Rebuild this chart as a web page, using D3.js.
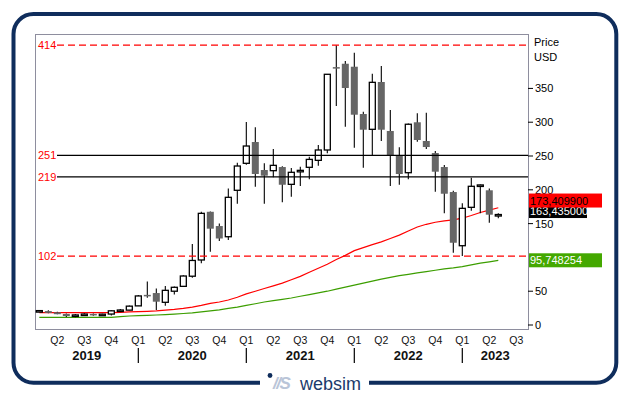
<!DOCTYPE html>
<html>
<head>
<meta charset="utf-8">
<script src="https://cdn.jsdelivr.net/npm/d3@7"></script>
<style>
  body { margin: 0; background: #fff; }
  svg { display: block; font-family: "Liberation Sans", Arial, sans-serif; }
</style>
</head>
<body>
<svg width="630" height="396"></svg>
<script>
// monthly candles, Feb 2019 .. May 2023
var months = [
  "2019-02","2019-03","2019-04","2019-05","2019-06","2019-07","2019-08","2019-09","2019-10","2019-11","2019-12",
  "2020-01","2020-02","2020-03","2020-04","2020-05","2020-06","2020-07","2020-08","2020-09","2020-10","2020-11","2020-12",
  "2021-01","2021-02","2021-03","2021-04","2021-05","2021-06","2021-07","2021-08","2021-09","2021-10","2021-11","2021-12",
  "2022-01","2022-02","2022-03","2022-04","2022-05","2022-06","2022-07","2022-08","2022-09","2022-10","2022-11","2022-12",
  "2023-01","2023-02","2023-03","2023-04","2023-05"];

var open = [
  20.3, 20.6, 18.8, 16.3, 14.0, 14.9, 16.4, 15.0, 16.2, 21.0, 22.0,
  28.3, 44.6, 47.3, 33.6, 50.0, 57.2, 72.2, 96.2, 167.5, 146.4, 130.6, 199.3,
  239.2, 270.7, 229.3, 228.3, 233.7, 208.1, 227.0, 233.3, 243.6, 258.9, 381.5, 386.5,
  382.1, 312.1, 289.5, 359.5, 287.0, 251.0, 225.3, 299.9, 272.2, 254.4, 233.7, 196.7,
  117.3, 174.1, 205.6, 199.3, 162.8];
var high = [
  22.0, 21.8, 19.6, 17.0, 16.4, 17.4, 16.9, 16.5, 22.0, 23.6, 29.0,
  44.5, 64.5, 54.0, 57.7, 57.0, 73.5, 119.7, 167.5, 168.0, 150.0, 202.0, 240.0,
  300.3, 292.4, 239.2, 260.4, 235.0, 232.2, 234.0, 249.0, 266.3, 371.5, 414.0, 390.5,
  402.8, 315.5, 371.7, 383.0, 318.0, 262.9, 298.0, 313.2, 314.0, 257.4, 236.7, 198.7,
  180.0, 217.9, 207.8, 202.0, 165.2];
var low = [
  19.3, 17.4, 15.8, 12.0, 11.4, 14.0, 13.6, 14.4, 14.2, 20.8, 21.8,
  28.1, 40.4, 22.2, 28.6, 45.0, 56.5, 70.0, 91.3, 108.5, 124.3, 125.7, 179.4,
  237.0, 204.6, 179.4, 218.5, 181.5, 189.8, 205.6, 215.5, 235.7, 254.0, 324.0, 293.3,
  262.3, 232.7, 251.5, 272.2, 205.6, 207.5, 215.5, 271.2, 260.4, 197.2, 165.2, 107.0,
  102.0, 169.0, 165.2, 151.3, 157.8];
var close = [
  21.3, 18.0, 16.0, 13.3, 14.9, 16.2, 14.3, 16.0, 21.0, 22.2, 27.9,
  43.0, 44.0, 34.5, 51.3, 55.8, 72.5, 95.5, 165.2, 142.5, 128.0, 188.9, 235.2,
  264.8, 223.4, 220.9, 236.2, 207.5, 225.9, 228.8, 245.0, 258.9, 370.9, 381.0, 350.6,
  311.1, 288.9, 359.0, 288.9, 251.5, 223.4, 297.0, 273.7, 263.3, 226.8, 194.2, 121.7,
  172.6, 205.2, 207.2, 163.2, 163.435];

// moving averages (red, green)
var maRed = [
  18.2, 18.2, 18.2, 18.2, 18.2, 18.2, 18.2, 18.2, 18.2, 18.8, 19.5,
  19.8, 20.3, 21.0, 22.0, 23.0, 24.5, 26.5, 29.0, 32.0, 34.0, 37.0, 41.0,
  46.0, 50.0, 54.0, 58.0, 62.0, 67.0, 72.0, 78.0, 84.0, 90.0, 97.0, 103.0,
  110.0, 114.5, 119.0, 123.0, 128.0, 133.0, 139.0, 145.0, 149.0, 152.0, 154.0, 155.5,
  158.0, 162.0, 166.5, 170.0, 173.4099];
var maGreen = [
  11.3, 11.3, 11.3, 11.3, 11.3, 11.3, 11.3, 11.3, 11.3, 12.5, 13.3,
  13.8, 14.3, 14.8, 15.5, 16.2, 17.0, 18.0, 19.5, 21.0, 22.5, 24.5, 26.5,
  29.0, 31.5, 34.0, 36.0, 38.0, 40.0, 42.5, 45.0, 47.5, 50.0, 53.0, 56.0,
  59.0, 62.0, 65.0, 68.0, 70.5, 73.0, 75.0, 77.0, 79.0, 81.0, 83.0, 84.5,
  86.5, 89.0, 91.5, 93.5, 95.748254];

var levels = [414, 251, 219, 102];
var levelDashed = [true, false, false, true];
// 100 sits under the green value box in the original, so it is not printed
var yTicks = [0, 50, 150, 200, 250, 300, 350];
var quarterNames = ["Q1", "Q2", "Q3", "Q4"];
var years = [2019, 2020, 2021, 2022, 2023];

var svg = d3.select("svg");
var plot = {left: 35, right: 528, top: 34, bottom: 329};

// month index: 0 = Jan 2019
function monthIndex(s) {
  var p = s.split("-");
  return (+p[0] - 2019) * 12 + (+p[1] - 1);
}

var x = d3.scaleLinear().domain([0.52, 55.3]).range([plot.left, plot.right]);
var y = d3.scaleLinear().domain([-5.9, 430.5]).range([plot.bottom, plot.top]);

var candles = months.map(function(m, i) {
  return {i: monthIndex(m), o: open[i], h: high[i], l: low[i], c: close[i]};
});

svg.append("defs").append("clipPath").attr("id", "clip")
  .append("rect")
    .attr("x", plot.left).attr("y", plot.top)
    .attr("width", plot.right - plot.left).attr("height", plot.bottom - plot.top);

// plot frame
svg.append("rect")
    .attr("x", plot.left + 0.5).attr("y", plot.top + 0.5)
    .attr("width", plot.right - plot.left).attr("height", plot.bottom - plot.top)
    .attr("fill", "none")
    .attr("stroke", "#8e8e9e")
    .attr("stroke-width", 1);

var g = svg.append("g").attr("clip-path", "url(#clip)");

// moving averages
var maLine = d3.line()
    .x(function(d) { return x(d[0]); })
    .y(function(d) { return y(d[1]); });

g.append("path")
    .datum(candles.map(function(d, i) { return [d.i, maGreen[i]]; }))
    .attr("d", maLine)
    .attr("fill", "none")
    .attr("stroke", "#3c9e00")
    .attr("stroke-width", 1.2);

g.append("path")
    .datum(candles.map(function(d, i) { return [d.i, maRed[i]]; }))
    .attr("d", maLine)
    .attr("fill", "none")
    .attr("stroke", "#ff0000")
    .attr("stroke-width", 1.2);

// horizontal levels
levels.forEach(function(v, k) {
  svg.append("line")
      .attr("x1", 57).attr("x2", plot.right)
      .attr("y1", y(v)).attr("y2", y(v))
      .attr("stroke", levelDashed[k] ? "#ff0000" : "#000")
      .attr("stroke-width", 1.2)
      .attr("stroke-dasharray", levelDashed[k] ? "7,4" : null);
  svg.append("text")
      .attr("x", 38).attr("y", y(v) + 4)
      .attr("font-size", 11)
      .attr("fill", "#ff0000")
      .text(v);
});

// candles
var candle = g.selectAll("g.candle")
    .data(candles)
    .enter().append("g")
      .attr("class", "candle");

candle.append("line")
    .attr("x1", function(d) { return x(d.i); })
    .attr("x2", function(d) { return x(d.i); })
    .attr("y1", function(d) { return y(d.h); })
    .attr("y2", function(d) { return y(d.l); })
    .attr("stroke", "#000")
    .attr("stroke-width", 1.1);

candle.append("rect")
    .attr("x", function(d) { return x(d.i) - (d.c >= d.o ? 3 : 3.5); })
    .attr("width", function(d) { return d.c >= d.o ? 6 : 7; })
    .attr("y", function(d) { return y(Math.max(d.o, d.c)); })
    .attr("height", function(d) { return Math.max(1.5, Math.abs(y(d.o) - y(d.c))); })
    .attr("fill", function(d) { return d.c >= d.o ? "#fff" : "#666"; })
    .attr("stroke", function(d) { return d.c >= d.o ? "#000" : "none"; })
    .attr("stroke-width", 1.3);

// right axis
yTicks.forEach(function(v) {
  svg.append("line")
      .attr("x1", plot.right).attr("x2", plot.right + 5)
      .attr("y1", y(v)).attr("y2", y(v))
      .attr("stroke", "#000");
  svg.append("text")
      .attr("x", plot.right + 7).attr("y", y(v) + 4)
      .attr("font-size", 11)
      .attr("fill", "#000")
      .text(v);
});
svg.append("text").attr("x", 534).attr("y", 46).attr("font-size", 11).text("Price");
svg.append("text").attr("x", 534).attr("y", 61).attr("font-size", 11).text("USD");

// value boxes on the axis
var fmt = function(v) { return v.toFixed(6).replace(".", ","); };
var last = candles.length - 1;
var blackY = y(close[last]) - 3.5;
var boxes = [
  {v: close[last], cy: blackY, bg: "#000", fg: "#fff", w: 58},
  {v: maRed[last], cy: blackY - 10.5, bg: "#ff0000", fg: "#000", w: 73},
  {v: maGreen[last], cy: y(maGreen[last]), bg: "#44a800", fg: "#fff", w: 73}
];
boxes.forEach(function(b) {
  svg.append("rect")
      .attr("x", plot.right + 1).attr("y", b.cy - 7)
      .attr("width", b.w).attr("height", 14)
      .attr("fill", b.bg);
  svg.append("text")
      .attr("x", plot.right + 2).attr("y", b.cy + 4)
      .attr("font-size", 11)
      .attr("fill", b.fg)
      .text(fmt(b.v));
});

// bottom axis: quarters
var qs = d3.range(3, 55, 3);
svg.selectAll("text.q")
    .data(qs)
    .enter().append("text")
      .attr("class", "q")
      .attr("x", function(d) { return x(d); })
      .attr("y", 343.5)
      .attr("text-anchor", "middle")
      .attr("font-size", 10.5)
      .attr("fill", "#111")
      .text(function(d) { return quarterNames[(d / 3) % 4]; });

// years
var dom = x.domain();
svg.selectAll("text.yr")
    .data(years)
    .enter().append("text")
      .attr("class", "yr")
      .attr("x", function(d) {
        var a = Math.max(dom[0], (d - 2019) * 12), b = Math.min(dom[1], (d - 2019) * 12 + 12);
        return x((a + b) / 2);
      })
      .attr("y", 360)
      .attr("text-anchor", "middle")
      .attr("font-size", 13)
      .attr("font-weight", "bold")
      .attr("fill", "#111")
      .text(function(d) { return d; });

svg.selectAll("line.sep")
    .data(years.slice(1))
    .enter().append("line")
      .attr("class", "sep")
      .attr("x1", function(d) { return x((d - 2019) * 12); })
      .attr("x2", function(d) { return x((d - 2019) * 12); })
      .attr("y1", 348).attr("y2", 363)
      .attr("stroke", "#000")
      .attr("stroke-width", 1.2);

// outer frame with gap for logo
var fl = 13.5, ft = 14, fr = 616.3, fb = 382.7, rr = 20;
var framePath = d3.path();
framePath.moveTo(260, fb);
framePath.lineTo(fl + rr, fb);
framePath.arcTo(fl, fb, fl, fb - rr, rr);
framePath.lineTo(fl, ft + rr);
framePath.arcTo(fl, ft, fl + rr, ft, rr);
framePath.lineTo(fr - rr, ft);
framePath.arcTo(fr, ft, fr, ft + rr, rr);
framePath.lineTo(fr, fb - rr);
framePath.arcTo(fr, fb, fr - rr, fb, rr);
framePath.lineTo(369, fb);
svg.append("path")
    .attr("d", framePath.toString())
    .attr("fill", "none")
    .attr("stroke", "#0f2d5c")
    .attr("stroke-width", 4);

// logo
svg.append("circle").attr("cx", 270).attr("cy", 375.5).attr("r", 2.4).attr("fill", "#0f2d5c");
svg.append("text")
    .attr("x", 273).attr("y", 389)
    .attr("font-size", 17)
    .attr("font-weight", "bold")
    .attr("font-style", "italic")
    .attr("letter-spacing", -1.5)
    .attr("fill", "#b9c5d8")
    .text("//S");
svg.append("text")
    .attr("x", 300).attr("y", 390)
    .attr("font-size", 18)
    .attr("fill", "#1b3a6b")
    .text("websim");
</script>
</body>
</html>
